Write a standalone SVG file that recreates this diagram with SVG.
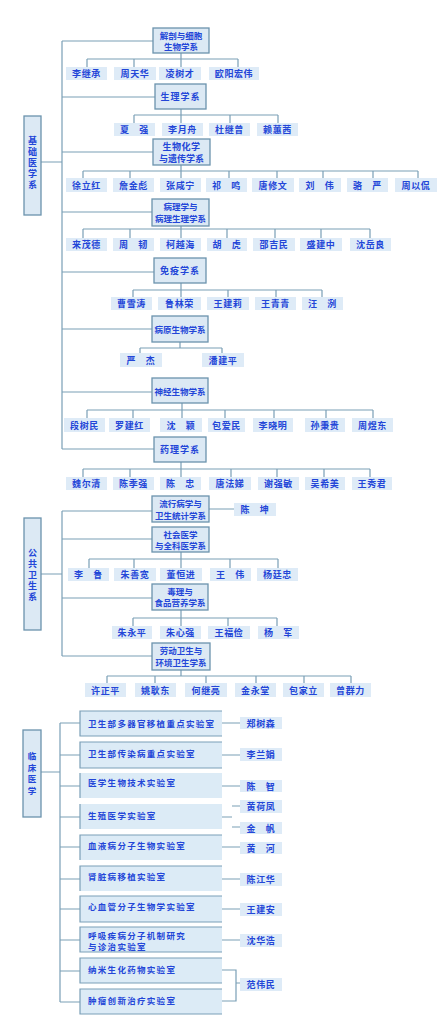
<svg xmlns="http://www.w3.org/2000/svg" width="440" height="1031" viewBox="0 0 440 1031">
<style>
.bg{fill:#ffffff}
.d{fill:#dce9f4;stroke:#6b93ad;stroke-width:1.3}
.n{fill:#deebf7}
.lb{fill:#dcebf6}
.lbe{fill:none;stroke:#7b9fb7;stroke-width:1.2}
.l{fill:none;stroke:#7a9fb6;stroke-width:1.2}
.t{font-family:"Noto Sans CJK SC","Noto Sans",sans-serif;font-weight:bold;fill:#2346d8;text-anchor:middle;font-size:9px}
.s{font-size:8.5px}
.v{font-size:8.5px}
.lt{font-family:"Noto Sans CJK SC","Noto Sans",sans-serif;font-weight:bold;fill:#2346d8;font-size:8.5px;letter-spacing:1.3px}
.nm{letter-spacing:0.6px}
</style>
<rect class="bg" x="0" y="0" width="440" height="1031"/>

<g id="connectors">
<path class="l" d="M41,162H62M62,41V449M62,41H153M62,97H155M62,152H153M62,212H152M62,272H154M62,329H152M62,392H152M62,449H154"/>
<path class="l" d="M181,53V59M87,59H238M87,59V67M134,59V67M181,59V67M238,59V67"/>
<path class="l" d="M181,109V115M134,115H278M134,115V123M181,115V123M230,115V123M278,115V123"/>
<path class="l" d="M181,165V171M83,171H418M83,171V178M130,171V178M181,171V178M229,171V178M277,171V178M323,171V178M373,171V178M418,171V178"/>
<path class="l" d="M181,226V229M83,229H370M83,229V238M130,229V238M181,229V238M227,229V238M275,229V238M321,229V238M370,229V238"/>
<path class="l" d="M181,283V290M133,290H322M133,290V297M181,290V297M228,290V297M276,290V297M322,290V297"/>
<path class="l" d="M180,342V348M140,348H222M140,348V353M222,348V353"/>
<path class="l" d="M182,403V410M87,410H373M87,410V418M133,410V418M182,410V418M225,410V418M274,410V418M326,410V418M373,410V418"/>
<path class="l" d="M181,462V469M83,469H370M83,469V477M130,469V477M181,469V477M231,469V477M277,469V477M324,469V477M370,469V477"/>
<path class="l" d="M41,574H62M62,511V656M62,511H152M62,539H152M62,598H152M62,656H152M209,509H234"/>
<path class="l" d="M181,552V559M89,559H278M89,559V568M134,559V568M181,559V568M230,559V568M278,559V568"/>
<path class="l" d="M181,610V618M133,618H277M133,618V626M181,618V626M228,618V626M277,618V626"/>
<path class="l" d="M181,670V676M107,676H351M107,676V683M155,676V683M206,676V683M256,676V683M304,676V683M351,676V683"/>
<path class="l" d="M41,772H60M60,723V1002M60,723H80M60,755H80M60,786H80M60,817H80M60,847H80M60,879H80M60,909H80M60,940H80M60,971H80M60,1002H80"/>
<path class="l" d="M222,723H240M222,755H240M222,786H240M222,817H232M232,806H240M232,827H240M222,847H240M222,879H240M222,909H240M222,940H240M222,970H236V1001H222M236,983H240"/>
</g>

<g id="basic">
<rect class="d" x="24" y="116" width="17" height="99"/>
<text class="t" x="32.5" y="144">基</text><text class="t" x="32.5" y="155">础</text><text class="t" x="32.5" y="166">医</text><text class="t" x="32.5" y="177">学</text><text class="t" x="32.5" y="188">系</text>
</g>

<g id="dept-anatomy">
<rect class="d" x="153" y="28" width="56" height="25"/>
<text class="t s" x="181" y="38.5">解剖与细胞</text><text class="t s" x="181" y="49.5">生物学系</text>
</g>
<g id="names-anatomy" class="nm">
<rect class="n" x="66" y="67" width="41" height="13"/><text class="t" x="86.5" y="77">李继承</text>
<rect class="n" x="114" y="67" width="42" height="13"/><text class="t" x="135" y="77">周天华</text>
<rect class="n" x="159" y="67" width="42" height="13"/><text class="t" x="180" y="77">凌树才</text>
<rect class="n" x="209" y="67" width="50" height="13"/><text class="t" x="234" y="77">欧阳宏伟</text>
</g>

<g id="dept-physiology">
<rect class="d" x="155" y="84" width="51" height="25"/>
<text class="t" x="180.5" y="100" style="letter-spacing:1px">生理学系</text>
</g>
<g id="names-physiology" class="nm">
<rect class="n" x="114" y="123" width="41" height="13"/><text class="t" x="134.5" y="133">夏　强</text>
<rect class="n" x="162" y="123" width="41" height="13"/><text class="t" x="182.5" y="133">李月舟</text>
<rect class="n" x="209" y="123" width="41" height="13"/><text class="t" x="229.5" y="133">杜继曾</text>
<rect class="n" x="257" y="123" width="41" height="13"/><text class="t" x="277.5" y="133">赖蕙茜</text>
</g>

<g id="dept-biochem">
<rect class="d" x="153" y="139" width="57" height="26"/>
<text class="t" x="181.5" y="150" style="letter-spacing:0.5px">生物化学</text><text class="t" x="181.5" y="161.5">与遗传学系</text>
</g>
<g id="names-biochem" class="nm">
<rect class="n" x="66" y="178" width="41" height="14"/><text class="t" x="86.5" y="188.5">徐立红</text>
<rect class="n" x="113" y="178" width="41" height="14"/><text class="t" x="133.5" y="188.5">詹金彪</text>
<rect class="n" x="160" y="178" width="41" height="14"/><text class="t" x="180.5" y="188.5">张咸宁</text>
<rect class="n" x="206" y="178" width="41" height="14"/><text class="t" x="226.5" y="188.5">祁　鸣</text>
<rect class="n" x="252" y="178" width="42" height="14"/><text class="t" x="273" y="188.5">唐修文</text>
<rect class="n" x="299" y="178" width="42" height="14"/><text class="t" x="320" y="188.5">刘　伟</text>
<rect class="n" x="347" y="178" width="41" height="14"/><text class="t" x="367.5" y="188.5">骆　严</text>
<rect class="n" x="395" y="178" width="42" height="14"/><text class="t" x="416" y="188.5">周以侃</text>
</g>

<g id="dept-pathology">
<rect class="d" x="152" y="199" width="57" height="27"/>
<text class="t s" x="180.5" y="210">病理学与</text><text class="t s" x="180.5" y="222">病理生理学系</text>
</g>
<g id="names-pathology" class="nm">
<rect class="n" x="66" y="238" width="41" height="13"/><text class="t" x="86.5" y="248">来茂德</text>
<rect class="n" x="113" y="238" width="41" height="13"/><text class="t" x="133.5" y="248">周　韧</text>
<rect class="n" x="160" y="238" width="41" height="13"/><text class="t" x="180.5" y="248">柯越海</text>
<rect class="n" x="207" y="238" width="40" height="13"/><text class="t" x="227" y="248">胡　虎</text>
<rect class="n" x="253" y="238" width="42" height="13"/><text class="t" x="274" y="248">邵吉民</text>
<rect class="n" x="300" y="238" width="42" height="13"/><text class="t" x="321" y="248">盛建中</text>
<rect class="n" x="350" y="238" width="41" height="13"/><text class="t" x="370.5" y="248">沈岳良</text>
</g>

<g id="dept-immunology">
<rect class="d" x="154" y="258" width="52" height="25"/>
<text class="t" x="180" y="274" style="letter-spacing:1px">免疫学系</text>
</g>
<g id="names-immunology" class="nm">
<rect class="n" x="111" y="297" width="41" height="13"/><text class="t" x="131.5" y="307">曹雪涛</text>
<rect class="n" x="158" y="297" width="43" height="13"/><text class="t" x="179.5" y="307">鲁林荣</text>
<rect class="n" x="207" y="297" width="42" height="13"/><text class="t" x="228" y="307">王建莉</text>
<rect class="n" x="255" y="297" width="41" height="13"/><text class="t" x="275.5" y="307">王青青</text>
<rect class="n" x="302" y="297" width="41" height="13"/><text class="t" x="322.5" y="307">汪　洌</text>
</g>

<g id="dept-pathogen">
<rect class="d" x="152" y="316" width="56" height="26"/>
<text class="t s" x="180" y="332.5">病原生物学系</text>
</g>
<g id="names-pathogen" class="nm">
<rect class="n" x="120" y="353" width="42" height="14"/><text class="t" x="141" y="363.5">严　杰</text>
<rect class="n" x="202" y="353" width="42" height="14"/><text class="t" x="223" y="363.5">潘建平</text>
</g>

<g id="dept-neuro">
<rect class="d" x="152" y="378" width="56" height="25"/>
<text class="t s" x="180" y="394.5">神经生物学系</text>
</g>
<g id="names-neuro" class="nm">
<rect class="n" x="64" y="418" width="41" height="14"/><text class="t" x="84.5" y="428.5">段树民</text>
<rect class="n" x="109" y="418" width="41" height="14"/><text class="t" x="129.5" y="428.5">罗建红</text>
<rect class="n" x="160" y="418" width="42" height="14"/><text class="t" x="181" y="428.5">沈　颖</text>
<rect class="n" x="208" y="418" width="37" height="14"/><text class="t" x="226.5" y="428.5">包爱民</text>
<rect class="n" x="253" y="418" width="40" height="14"/><text class="t" x="273" y="428.5">李晓明</text>
<rect class="n" x="305" y="418" width="40" height="14"/><text class="t" x="325" y="428.5">孙秉贵</text>
<rect class="n" x="352" y="418" width="41" height="14"/><text class="t" x="372.5" y="428.5">周煜东</text>
</g>

<g id="dept-pharmacology">
<rect class="d" x="154" y="437" width="52" height="25"/>
<text class="t" x="180" y="453" style="letter-spacing:1px">药理学系</text>
</g>
<g id="names-pharmacology" class="nm">
<rect class="n" x="66" y="477" width="41" height="13"/><text class="t" x="86.5" y="487">魏尔清</text>
<rect class="n" x="113" y="477" width="41" height="13"/><text class="t" x="133.5" y="487">陈季强</text>
<rect class="n" x="160" y="477" width="41" height="13"/><text class="t" x="180.5" y="487">陈　忠</text>
<rect class="n" x="209" y="477" width="42" height="13"/><text class="t" x="230" y="487">唐法娣</text>
<rect class="n" x="258" y="477" width="41" height="13"/><text class="t" x="278.5" y="487">谢强敏</text>
<rect class="n" x="305" y="477" width="40" height="13"/><text class="t" x="325" y="487">吴希美</text>
<rect class="n" x="352" y="477" width="40" height="13"/><text class="t" x="372" y="487">王秀君</text>
</g>

<g id="public-health">
<rect class="d" x="24" y="518" width="17" height="112"/>
<text class="t" x="32.5" y="556">公</text><text class="t" x="32.5" y="567">共</text><text class="t" x="32.5" y="578">卫</text><text class="t" x="32.5" y="589">生</text><text class="t" x="32.5" y="600">系</text>
</g>

<g id="dept-epidemiology">
<rect class="d" x="152" y="496" width="57" height="26"/>
<text class="t s" x="180.5" y="507">流行病学与</text><text class="t s" x="180.5" y="518.5">卫生统计学系</text>
</g>
<g id="names-epidemiology" class="nm">
<rect class="n" x="234" y="503" width="42" height="13"/><text class="t" x="255" y="513">陈　坤</text>
</g>

<g id="dept-social">
<rect class="d" x="152" y="527" width="57" height="25"/>
<text class="t s" x="180.5" y="537.5">社会医学</text><text class="t s" x="180.5" y="548.5">与全科医学系</text>
</g>
<g id="names-social" class="nm">
<rect class="n" x="68" y="568" width="41" height="13"/><text class="t" x="88.5" y="578">李　鲁</text>
<rect class="n" x="114" y="568" width="42" height="13"/><text class="t" x="135" y="578">朱善宽</text>
<rect class="n" x="160" y="568" width="42" height="13"/><text class="t" x="181" y="578">董恒进</text>
<rect class="n" x="210" y="568" width="41" height="13"/><text class="t" x="230.5" y="578">王　伟</text>
<rect class="n" x="257" y="568" width="41" height="13"/><text class="t" x="277.5" y="578">杨廷忠</text>
</g>

<g id="dept-toxicology">
<rect class="d" x="152" y="584" width="56" height="26"/>
<text class="t s" x="180" y="594.5">毒理与</text><text class="t s" x="180" y="606">食品营养学系</text>
</g>
<g id="names-toxicology" class="nm">
<rect class="n" x="112" y="626" width="40" height="13"/><text class="t" x="132" y="636">朱永平</text>
<rect class="n" x="160" y="626" width="41" height="13"/><text class="t" x="180.5" y="636">朱心强</text>
<rect class="n" x="208" y="626" width="42" height="13"/><text class="t" x="229" y="636">王福俭</text>
<rect class="n" x="258" y="626" width="41" height="13"/><text class="t" x="278.5" y="636">杨　军</text>
</g>

<g id="dept-occupational">
<rect class="d" x="152" y="643" width="58" height="27"/>
<text class="t s" x="181" y="654">劳动卫生与</text><text class="t s" x="181" y="666">环境卫生学系</text>
</g>
<g id="names-occupational" class="nm">
<rect class="n" x="85" y="683" width="41" height="14"/><text class="t" x="105.5" y="693.5">许正平</text>
<rect class="n" x="135" y="683" width="41" height="14"/><text class="t" x="155.5" y="693.5">姚耿东</text>
<rect class="n" x="185" y="683" width="42" height="14"/><text class="t" x="206" y="693.5">何继亮</text>
<rect class="n" x="235" y="683" width="41" height="14"/><text class="t" x="255.5" y="693.5">金永堂</text>
<rect class="n" x="283" y="683" width="41" height="14"/><text class="t" x="303.5" y="693.5">包家立</text>
<rect class="n" x="330" y="683" width="41" height="14"/><text class="t" x="350.5" y="693.5">曾群力</text>
</g>

<g id="clinical">
<rect class="d" x="23" y="730" width="18" height="87"/>
<text class="t v" x="32" y="759">临</text><text class="t v" x="32" y="770.5">床</text><text class="t v" x="32" y="782">医</text><text class="t v" x="32" y="793.5">学</text>
</g>

<g id="lab-1">
<rect class="lb" x="80" y="711" width="142" height="25"/><path class="lbe" d="M222,711H80V736H222"/>
<text class="lt" x="88" y="727">卫生部多器官移植重点实验室</text>
</g>
<g id="lab-2">
<rect class="lb" x="80" y="742" width="142" height="26"/><path class="lbe" d="M222,742H80V768H222"/>
<text class="lt" x="88" y="756.5">卫生部传染病重点实验室</text>
</g>
<g id="lab-3">
<rect class="lb" x="80" y="773" width="142" height="25"/><path class="lbe" d="M80,773V798"/>
<text class="lt" x="88" y="785.5">医学生物技术实验室</text>
</g>
<g id="lab-4">
<rect class="lb" x="80" y="804" width="142" height="25"/><path class="lbe" d="M80,804V829"/>
<text class="lt" x="88" y="818.5">生殖医学实验室</text>
</g>
<g id="lab-5">
<rect class="lb" x="80" y="835" width="142" height="25"/><path class="lbe" d="M222,835H80V860"/>
<text class="lt" x="88" y="848.5">血液病分子生物实验室</text>
</g>
<g id="lab-6">
<rect class="lb" x="80" y="866" width="142" height="25"/><path class="lbe" d="M222,866H80V891"/>
<text class="lt" x="88" y="880">肾脏病移植实验室</text>
</g>
<g id="lab-7">
<rect class="lb" x="80" y="896" width="142" height="26"/><path class="lbe" d="M222,896H80V922H222"/>
<text class="lt" x="88" y="909.5">心血管分子生物学实验室</text>
</g>
<g id="lab-8">
<rect class="lb" x="80" y="927" width="142" height="25"/><path class="lbe" d="M222,927H80V952H222"/>
<text class="lt" x="88" y="939">呼吸疾病分子机制研究</text><text class="lt" x="88" y="949.5">与诊治实验室</text>
</g>
<g id="lab-9">
<rect class="lb" x="80" y="958" width="142" height="25"/><path class="lbe" d="M222,958H80V983H222"/>
<text class="lt" x="88" y="972.5">纳米生化药物实验室</text>
</g>
<g id="lab-10">
<rect class="lb" x="80" y="989" width="142" height="25"/><path class="lbe" d="M222,989H80V1014H222"/>
<text class="lt" x="88" y="1003.5">肿瘤创新治疗实验室</text>
</g>

<g id="names-clinical" class="nm">
<rect class="n" x="240" y="717" width="42" height="12"/><text class="t" x="261" y="726.5">郑树森</text>
<rect class="n" x="240" y="748" width="42" height="13"/><text class="t" x="261" y="758">李兰娟</text>
<rect class="n" x="240" y="780" width="42" height="12"/><text class="t" x="261" y="789.5">陈　智</text>
<rect class="n" x="240" y="800" width="42" height="13"/><text class="t" x="261" y="810">黄荷凤</text>
<rect class="n" x="240" y="822" width="42" height="12"/><text class="t" x="261" y="831.5">金　帆</text>
<rect class="n" x="240" y="842" width="42" height="12"/><text class="t" x="261" y="851.5">黄　河</text>
<rect class="n" x="240" y="873" width="42" height="13"/><text class="t" x="261" y="883">陈江华</text>
<rect class="n" x="240" y="903" width="42" height="13"/><text class="t" x="261" y="913">王建安</text>
<rect class="n" x="240" y="934" width="42" height="13"/><text class="t" x="261" y="944">沈华浩</text>
<rect class="n" x="240" y="978" width="42" height="13"/><text class="t" x="261" y="988">范伟民</text>
</g>
</svg>
